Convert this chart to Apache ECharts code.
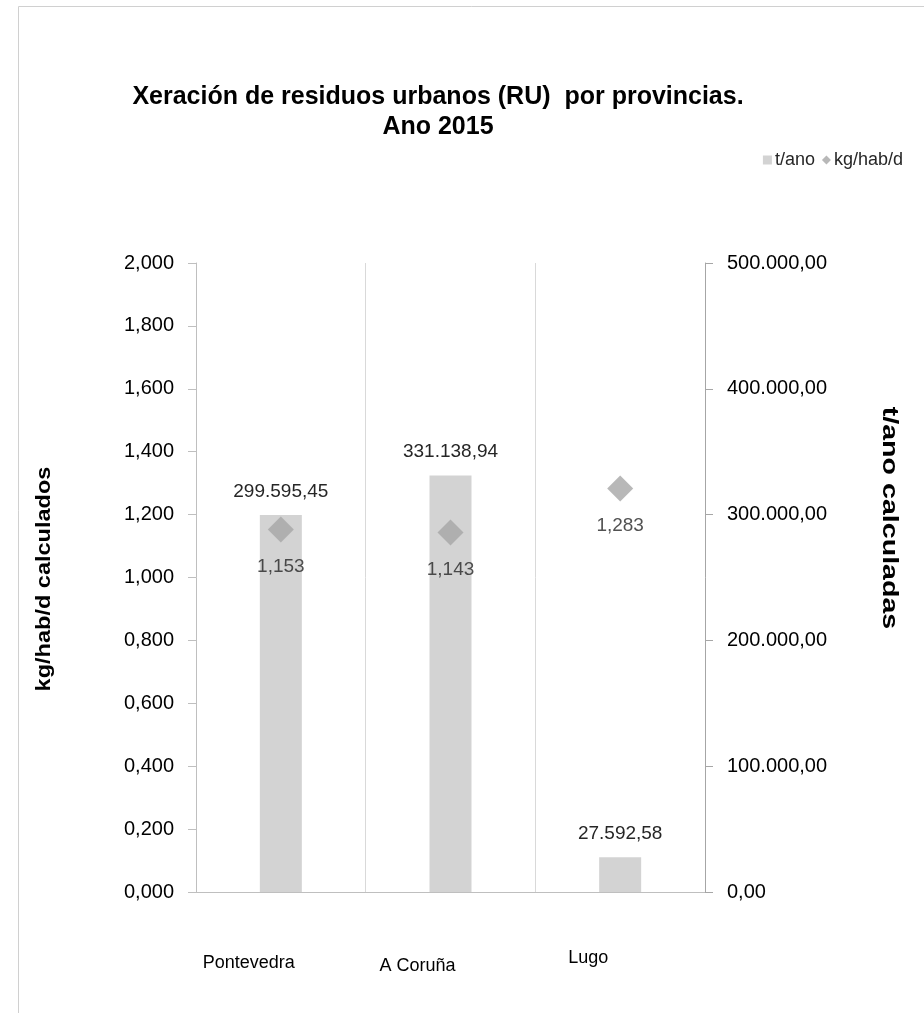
<!DOCTYPE html>
<html>
<head>
<meta charset="utf-8">
<style>
  html, body { margin: 0; padding: 0; background: #ffffff; }
  #chart { width: 924px; height: 1013px; }
</style>
<script src="https://cdn.jsdelivr.net/npm/echarts@6/dist/echarts.min.js"></script>
</head>
<body>
<div id="chart"></div>
<script>
const categories = ['Pontevedra', 'A Coruña', 'Lugo'];
const tonsPerYear = [299595.45, 331138.94, 27592.58];
const kgPerInhabDay = [1.153, 1.143, 1.283];
const titleText = 'Xeración de residuos urbanos (RU)  por provincias.\nAno 2015';
const seriesNames = ['t/ano', 'kg/hab/d'];
const leftAxisTitle = 'kg/hab/d calculados';
const rightAxisTitle = 't/ano calculadas';

function fmtThousands(v, decimals) {
  const parts = Number(v).toFixed(decimals).split('.');
  const intPart = parts[0].replace(/\B(?=(\d{3})+(?!\d))/g, '.');
  return parts.length > 1 ? intPart + ',' + parts[1] : intPart;
}
function fmtKg(v) { return Number(v).toFixed(3).replace('.', ','); }

const FONT = 'Liberation Sans, Arial, sans-serif';
const BAR_COLOR = '#d3d3d3';
const DIAMOND_COLOR = '#a6a6a6';

const chart = echarts.init(document.getElementById('chart'), null, { renderer: 'canvas' });

const option = {
  backgroundColor: '#ffffff',
  animation: false,
  textStyle: { fontFamily: FONT },
  title: {
    text: titleText,
    left: 433,
    top: 77,
    textAlign: 'center',
    textStyle: { fontFamily: FONT, fontSize: 25, fontWeight: 'bold', color: '#000000', lineHeight: 30, align: 'center' }
  },
  legend: {
    right: 16,
    top: 146,
    itemWidth: 9,
    itemHeight: 9,
    itemGap: 7,
    textStyle: { fontFamily: FONT, fontSize: 18, color: '#262626', padding: [0, 0, 0, -2] },
    data: [
      { name: seriesNames[0], icon: 'rect' },
      { name: seriesNames[1], icon: 'diamond' }
    ]
  },
  graphic: [
    {
      type: 'rect',
      silent: true,
      shape: { x: 18.5, y: 6.5, width: 1000, height: 1100 },
      style: { fill: 'none', stroke: '#d0d0d0', lineWidth: 1 }
    },
    {
      type: 'text',
      x: 44, y: 579,
      rotation: Math.PI / 2,
      scaleX: 1.12,
      style: { text: leftAxisTitle, font: 'bold 21px ' + FONT, fill: '#000000', align: 'center', verticalAlign: 'middle' }
    },
    {
      type: 'text',
      x: 889, y: 518,
      rotation: -Math.PI / 2,
      scaleX: 1.3,
      style: { text: rightAxisTitle, font: 'bold 22px ' + FONT, fill: '#000000', align: 'center', verticalAlign: 'middle' }
    }
  ],
  grid: { left: 196, right: 219, top: 263, bottom: 121, containLabel: false },
  xAxis: {
    type: 'category',
    data: categories,
    boundaryGap: true,
    axisLine: { show: true, lineStyle: { color: '#bfbfbf', width: 1 } },
    axisTick: { show: false },
    splitLine: { show: true, lineStyle: { color: '#d9d9d9', width: 1 } },
    axisLabel: {
      margin: 60,
      fontFamily: FONT,
      fontSize: 18,
      color: '#000000',
      formatter: function (v) {
        if (v === categories[2]) return '{c|' + v + '}';
        if (v === categories[1]) return '{b|' + v + '}';
        return '{a|' + v + '}';
      },
      rich: {
        a: { fontFamily: FONT, fontSize: 18, color: '#000000', padding: [2, 64, 0, 0] },
        b: { fontFamily: FONT, fontSize: 18, color: '#000000', padding: [5, 66, 0, 0] },
        c: { fontFamily: FONT, fontSize: 18, color: '#000000', padding: [-3, 64, 0, 0] }
      }
    }
  },
  yAxis: [
    {
      type: 'value',
      min: 0,
      max: 2,
      interval: 0.2,
      position: 'left',
      axisLine: { show: true, lineStyle: { color: '#bfbfbf', width: 1 } },
      axisTick: { show: true, inside: false, length: 8, lineStyle: { color: '#bfbfbf' } },
      splitLine: { show: false },
      axisLabel: { margin: 22, fontFamily: FONT, fontSize: 20, color: '#000000', formatter: fmtKg }
    },
    {
      type: 'value',
      min: 0,
      max: 500000,
      interval: 100000,
      position: 'right',
      axisLine: { show: true, lineStyle: { color: '#a6a6a6', width: 1 } },
      axisTick: { show: true, inside: false, length: 8, lineStyle: { color: '#a6a6a6' } },
      splitLine: { show: false },
      axisLabel: { margin: 22, fontFamily: FONT, fontSize: 20, color: '#000000', formatter: function (v) { return fmtThousands(v, 2); } }
    }
  ],
  series: [
    {
      name: seriesNames[0],
      type: 'bar',
      yAxisIndex: 1,
      data: tonsPerYear,
      barWidth: 42,
      itemStyle: { color: BAR_COLOR },
      label: {
        show: true,
        position: 'top',
        distance: 14,
        fontFamily: FONT,
        fontSize: 19,
        color: '#262626',
        formatter: function (p) { return fmtThousands(p.value, 2); }
      },
      z: 2
    },
    {
      name: seriesNames[1],
      type: 'scatter',
      yAxisIndex: 0,
      data: kgPerInhabDay,
      symbol: 'diamond',
      symbolSize: [26, 26],
      itemStyle: { color: DIAMOND_COLOR },
      label: {
        show: true,
        position: 'bottom',
        distance: 15,
        fontFamily: FONT,
        fontSize: 19,
        color: '#262626',
        formatter: function (p) { return fmtKg(p.value); }
      },
      z: 3
    }
  ]
};

chart.setOption(option);
</script>
</body>
</html>
